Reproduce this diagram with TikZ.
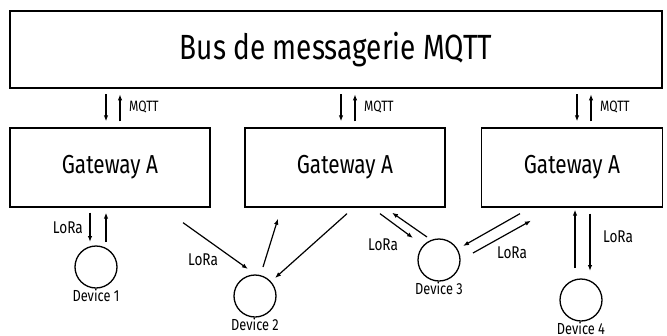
\documentclass[tikz,border=0pt]{standalone}
\usepackage{fontspec}
\setmainfont{Fira Sans}[FakeStretch=0.8]
\usetikzlibrary{arrows.meta,positioning}

\begin{document}
\begin{tikzpicture}[x=1pt,y=-1pt,
  box/.style={draw,line width=1.3pt,inner sep=0pt},
  dev/.style={draw,circle,line width=1.3pt,minimum size=42pt,inner sep=0pt,label={[font=\fontsize{16}{18}\selectfont,label distance=-3pt]below:#1}},
  arr/.style={line width=1.2pt,-{Latex[length=6pt,width=4.5pt]}},
  lbl/.style={font=\fontsize{17}{19}\selectfont,inner sep=1pt}]
\useasboundingbox (0,0) rectangle (667,335);
\node[box,minimum width=652pt,minimum height=77pt,font=\fontsize{35}{40}\selectfont] (bus) at (336,49.5) {Bus de messagerie MQTT};
\node[box,minimum width=200pt,minimum height=79pt,font=\fontsize{26}{30}\selectfont] (gw1) at (110,167.5) {Gateway A};
\node[box,minimum width=200pt,minimum height=79pt,font=\fontsize{26}{30}\selectfont] (gw2) at (345,167.5) {Gateway A};
\node[box,minimum width=181pt,minimum height=79pt,font=\fontsize{26}{30}\selectfont] (gw3) at (572,167.5) {Gateway A};
\node[dev={Device 1}] (d1) at (96,267) {};
\node[dev={Device 2}] (d2) at (255,296) {};
\node[dev={Device 3}] (d3) at (439,260) {};
\node[dev={Device 4}] (d4) at (581,300) {};
% MQTT
\draw[arr] ([shift={(-4,-33)}]gw1.north) -- ([shift={(-4,-6)}]gw1.north);
\draw[arr] ([shift={(10,-6)}]gw1.north) -- ([shift={(10,-33)}]gw1.north);
\node[lbl,font=\fontsize{15}{17}\selectfont,anchor=west] (m1) at ([shift={(18,-20)}]gw1.north) {MQTT};
\draw[arr] ([shift={(-4,-33)}]gw2.north) -- ([shift={(-4,-6)}]gw2.north);
\draw[arr] ([shift={(10,-6)}]gw2.north) -- ([shift={(10,-33)}]gw2.north);
\node[lbl,font=\fontsize{15}{17}\selectfont,anchor=west] (m2) at ([shift={(18,-20)}]gw2.north) {MQTT};
\draw[arr] ([shift={(5,-33)}]gw3.north) -- ([shift={(5,-6)}]gw3.north);
\draw[arr] ([shift={(19,-6)}]gw3.north) -- ([shift={(19,-33)}]gw3.north);
\node[lbl,font=\fontsize{15}{17}\selectfont,anchor=west] (m3) at ([shift={(27,-20)}]gw3.north) {MQTT};
% LoRa
\draw[arr] ([shift={(-20,5)}]gw1.south) -- ([shift={(-6,-25)}]d1.center);
\draw[arr] ([shift={(10,-25)}]d1.center) -- ([shift={(-4,5)}]gw1.south);
\node[lbl,anchor=east] (l1) at ([shift={(-26,20)}]gw1.south) {LoRa};
\draw[arr] ([shift={(73,15)}]gw1.south) -- ([shift={(-7,-27)}]d2.center);
\node[lbl] (l2) at (203,260) {LoRa};
\draw[arr] ([shift={(8,-29)}]d2.center) -- ([shift={(-67,11)}]gw2.south);
\draw[arr] ([shift={(2,6)}]gw2.south) -- ([shift={(20,-18)}]d2.center);
\draw[arr] ([shift={(35,6)}]gw2.south) -- ([shift={(-26,-22)}]d3.center);
\draw[arr] ([shift={(-12,-23)}]d3.center) -- ([shift={(47,5)}]gw2.south);
\node[lbl] (l3) at (383,245) {LoRa};
\draw[arr] ([shift={(-52,6)}]gw3.south) -- ([shift={(24,-14)}]d3.center);
\draw[arr] ([shift={(34,-7)}]d3.center) -- ([shift={(-41,13)}]gw3.south);
\node[lbl] (l4) at (512,253) {LoRa};
\draw[arr] ([shift={(-6,-32)}]d4.center) -- ([shift={(3,2)}]gw3.south);
\draw[arr] ([shift={(18,6)}]gw3.south) -- ([shift={(9,-29)}]d4.center);
\node[lbl] (l5) at (618,237) {LoRa};
\end{tikzpicture}
\end{document}
